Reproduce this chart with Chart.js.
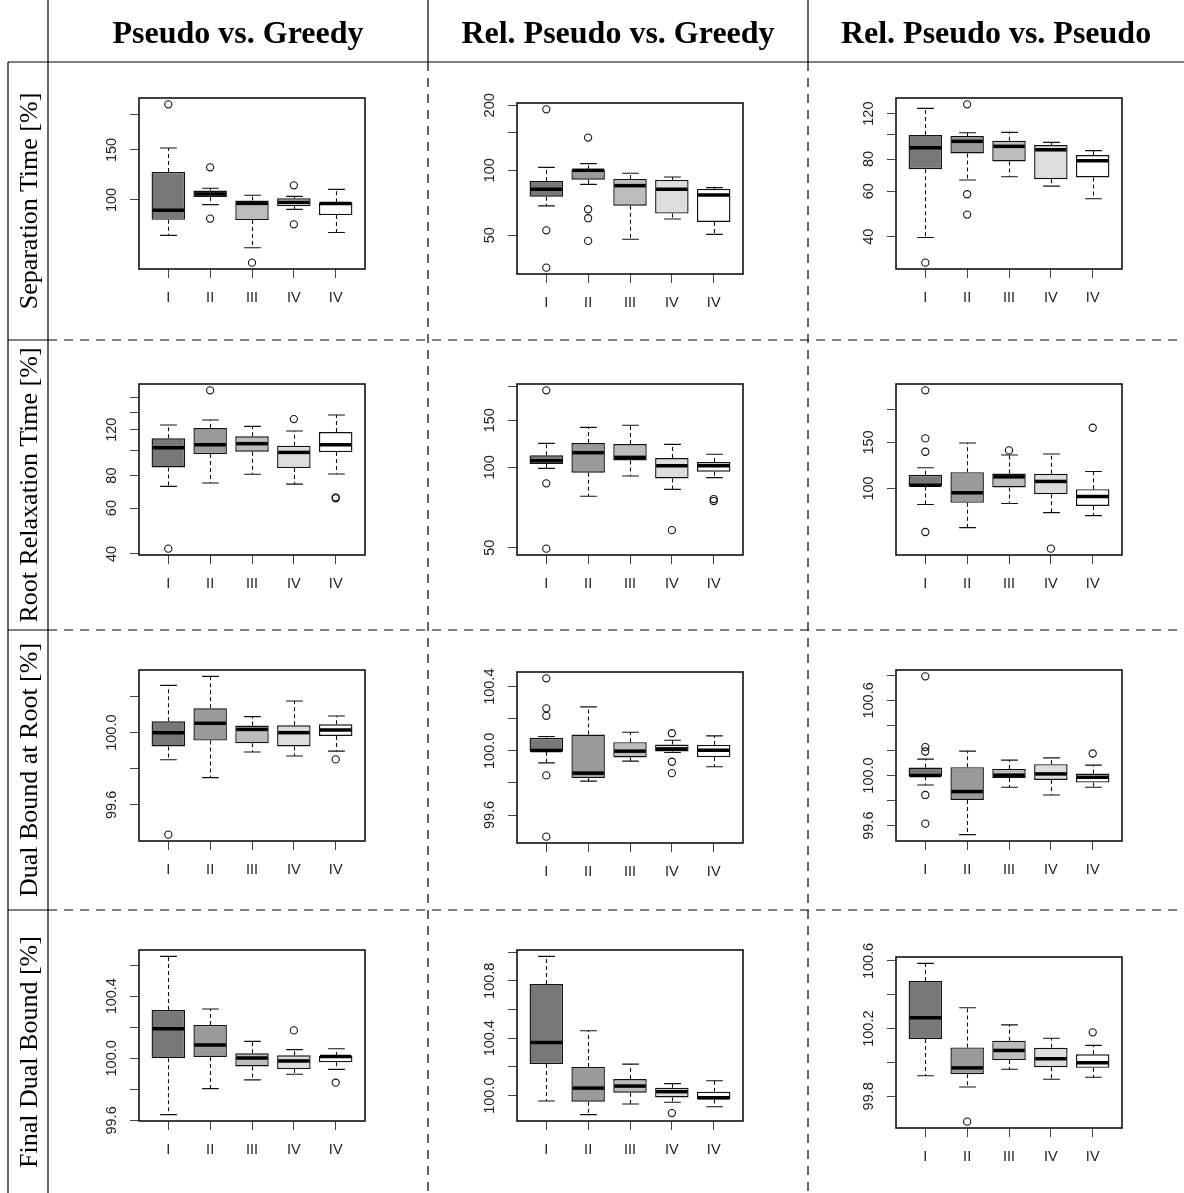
<!DOCTYPE html>
<html>
<head>
<meta charset="utf-8">
<title>Boxplots</title>
<script src="https://cdn.jsdelivr.net/npm/chart.js@4.4.1/dist/chart.umd.min.js"></script>
<style>
  body { margin: 0; background: #fff; }
  #page { position: relative; width: 1184px; height: 1193px; overflow: hidden; background: #fff; }
  #lines { position: absolute; left: 0; top: 0; }
  .panel { position: absolute; }
  .col-title {
    position: absolute; top: 16px; height: 32px; line-height: 32px;
    font-family: "Liberation Serif", "Times New Roman", serif; font-weight: bold; font-size: 32px;
    text-align: center; color: #000; white-space: nowrap;
  }
  .row-title {
    position: absolute; left: 29px; white-space: nowrap;
    font-family: "Liberation Serif", "Times New Roman", serif; font-size: 26px; color: #000;
    transform: translate(-50%, -50%) rotate(-90deg);
  }
</style>
</head>
<body>
<div id="page">
  <canvas id="lines" width="1184" height="1193"></canvas>
</div>
<script>
const boxLabels = ['I', 'II', 'III', 'IV', 'IV'];
const columnTitles = ['Pseudo vs. Greedy', 'Rel. Pseudo vs. Greedy', 'Rel. Pseudo vs. Pseudo'];
const rowTitles = ['Separation Time [%]', 'Root Relaxation Time [%]', 'Dual Bound at Root [%]', 'Final Dual Bound [%]'];

// each box: [lower whisker, Q1, median, Q3, upper whisker]; outliers: [box, value]
const sepGreedy = [[75.1, 85.2, 92.0, 125.5, 152.4], [96.3, 102.5, 105.0, 108.0, 110.0], [67.9, 85.0, 97.3, 99.5, 103.9], [92.7, 95.0, 98.1, 101.4, 103.0], [76.9, 88.5, 97.3, 98.1, 109.0]];
const sepGreedyOut = [[1, 217], [2, 130.3], [2, 86], [3, 60.2], [4, 112.6], [4, 82.1]];
const sepRelGreedy = [[68.4, 75.5, 81.7, 89.2, 103.2], [86.1, 90.5, 100.0, 101.1, 107.4], [47.9, 68.6, 84.9, 91.2, 96.9], [59.5, 63.0, 81.7, 90.2, 93.1], [50.5, 57.6, 76.9, 82.0, 83.1]];
const sepRelGreedyOut = [[1, 191.6], [1, 52.7], [1, 35.4], [2, 141.7], [2, 66], [2, 60], [2, 47.1]];
const sepRelPseudo = [[39.7, 73.1, 88.5, 99.1, 125.8], [66.3, 84.1, 93.7, 98.2, 101.2], [68.3, 78.3, 89.6, 94.2, 101.5], [62.8, 66.8, 86.9, 90.6, 92.8], [56.1, 67.9, 78.8, 82.9, 86.2]];
const sepRelPseudoOut = [[1, 31.7], [2, 130.4], [2, 58.4], [2, 48.7]];

const rootGreedy = [[72.7, 86.0, 102.4, 111.2, 125.1], [74.9, 96.8, 105.1, 121.8, 130.8], [80.9, 98.8, 106.1, 113.2, 123.7], [74.2, 85.5, 98.2, 104.2, 118.7], [81.1, 98.5, 105.1, 117.6, 136.7]];
const rootGreedyOut = [[1, 41.9], [2, 170.1], [4, 131.9], [5, 65.4], [5, 66.0]];
const rootRelGreedy = [[99.1, 102.9, 105.9, 110.9, 123.0], [77.9, 95.5, 113.5, 123.3, 141.2], [92.8, 106.2, 109.0, 122.3, 143.7], [82.7, 90.9, 101.4, 108.4, 121.9], [91.5, 96.3, 101.4, 104.7, 111.9]];
const rootRelGreedyOut = [[1, 194.3], [1, 87.1], [1, 49.6], [4, 58.2], [5, 76.1], [5, 74.8]];
const rootRelPseudo = [[86.9, 101.8, 103.0, 112.8, 120.0], [70.9, 88.2, 96.3, 115.5, 149.2], [87.6, 100.9, 110.8, 114.1, 134.2], [80.9, 95.1, 106.4, 113.8, 135.4], [78.8, 85.8, 93.2, 99.4, 116.2]];
const rootRelPseudoOut = [[1, 237.2], [1, 155.4], [1, 138.2], [1, 68.2], [3, 139.8], [4, 58.9], [5, 170.7]];

const dbrGreedy = [[99.850, 99.924, 100.000, 100.063, 100.262], [99.751, 99.956, 100.052, 100.135, 100.312], [99.893, 99.941, 100.018, 100.039, 100.089], [99.871, 99.924, 100.000, 100.041, 100.175], [99.898, 99.982, 100.015, 100.046, 100.092]];
const dbrGreedyOut = [[1, 99.435], [5, 99.852]];
const dbrRelGreedy = [[99.925, 99.994, 100.002, 100.081, 100.089], [99.811, 99.830, 99.861, 100.102, 100.274], [99.936, 99.959, 99.998, 100.054, 100.116], [99.990, 99.996, 100.012, 100.039, 100.066], [99.901, 99.961, 100.004, 100.037, 100.093]];
const dbrRelGreedyOut = [[1, 100.452], [1, 100.265], [1, 100.218], [1, 99.847], [1, 99.465], [4, 100.110], [4, 99.932], [4, 99.861]];
const dbrRelPseudo = [[99.925, 99.992, 100.000, 100.064, 100.131], [99.528, 99.805, 99.872, 100.067, 100.195], [99.907, 99.981, 100.003, 100.053, 100.123], [99.845, 99.965, 100.013, 100.091, 100.141], [99.907, 99.944, 99.987, 100.016, 100.083]];
const dbrRelPseudoOut = [[1, 100.792], [1, 100.227], [1, 100.192], [1, 99.845], [1, 99.616], [5, 100.176]];

const fdbGreedy = [[99.637, 100.000, 100.191, 100.311, 100.657], [99.805, 100.009, 100.086, 100.215, 100.318], [99.861, 99.948, 100.002, 100.032, 100.109], [99.897, 99.931, 99.983, 100.019, 100.056], [99.929, 99.974, 100.011, 100.015, 100.062]];
const fdbGreedyOut = [[4, 100.180], [5, 99.843]];
const fdbRelGreedy = [[99.963, 100.220, 100.371, 100.777, 100.970], [99.868, 99.958, 100.053, 100.200, 100.452], [99.942, 100.021, 100.067, 100.116, 100.220], [99.954, 99.988, 100.028, 100.056, 100.084], [99.923, 99.974, 99.986, 100.028, 100.104]];
const fdbRelGreedyOut = [[4, 99.879]];
const fdbRelPseudo = [[99.921, 100.139, 100.265, 100.481, 100.586], [99.855, 99.931, 99.968, 100.089, 100.323], [99.960, 100.014, 100.071, 100.129, 100.222], [99.901, 99.972, 100.022, 100.087, 100.143], [99.913, 99.968, 99.998, 100.048, 100.101]];
const fdbRelPseudoOut = [[2, 99.650], [5, 100.178]];

// y axis ticks and their labels ('' = tick without label)
const sepGreedyTicks = [100, 150, 200], sepGreedyLabels = ['100', '150', ''];
const sepRelGreedyTicks = [50, 100, 150, 200], sepRelGreedyLabels = ['50', '100', '', '200'];
const sepRelPseudoTicks = [40, 60, 80, 100, 120], sepRelPseudoLabels = ['40', '60', '80', '', '120'];
const rootGreedyTicks = [40, 60, 80, 100, 120, 140, 160], rootGreedyLabels = ['40', '60', '80', '', '120', '', ''];
const rootRelGreedyTicks = [50, 100, 150, 200], rootRelGreedyLabels = ['50', '100', '150', ''];
const rootRelPseudoTicks = [100, 150, 200], rootRelPseudoLabels = ['100', '150', ''];
const dbrGreedyTicks = [99.6, 99.8, 100.0, 100.2], dbrGreedyLabels = ['99.6', '', '100.0', ''];
const dbrRelGreedyTicks = [99.6, 99.8, 100.0, 100.2, 100.4], dbrRelGreedyLabels = ['99.6', '', '100.0', '', '100.4'];
const dbrRelPseudoTicks = [99.6, 99.8, 100.0, 100.2, 100.4, 100.6, 100.8], dbrRelPseudoLabels = ['99.6', '', '100.0', '', '', '100.6', ''];
const fdbGreedyTicks = [99.6, 99.8, 100.0, 100.2, 100.4, 100.6], fdbGreedyLabels = ['99.6', '', '100.0', '', '100.4', ''];
const fdbRelGreedyTicks = [100.0, 100.2, 100.4, 100.6, 100.8, 101.0], fdbRelGreedyLabels = ['100.0', '', '100.4', '', '100.8', ''];
const fdbRelPseudoTicks = [99.8, 100.0, 100.2, 100.4, 100.6], fdbRelPseudoLabels = ['99.8', '', '100.2', '', '100.6'];

const panels = [
  [
    { stats: sepGreedy, out: sepGreedyOut, ticks: sepGreedyTicks, labels: sepGreedyLabels },
    { stats: sepRelGreedy, out: sepRelGreedyOut, ticks: sepRelGreedyTicks, labels: sepRelGreedyLabels },
    { stats: sepRelPseudo, out: sepRelPseudoOut, ticks: sepRelPseudoTicks, labels: sepRelPseudoLabels }
  ],
  [
    { stats: rootGreedy, out: rootGreedyOut, ticks: rootGreedyTicks, labels: rootGreedyLabels },
    { stats: rootRelGreedy, out: rootRelGreedyOut, ticks: rootRelGreedyTicks, labels: rootRelGreedyLabels },
    { stats: rootRelPseudo, out: rootRelPseudoOut, ticks: rootRelPseudoTicks, labels: rootRelPseudoLabels }
  ],
  [
    { stats: dbrGreedy, out: dbrGreedyOut, ticks: dbrGreedyTicks, labels: dbrGreedyLabels },
    { stats: dbrRelGreedy, out: dbrRelGreedyOut, ticks: dbrRelGreedyTicks, labels: dbrRelGreedyLabels },
    { stats: dbrRelPseudo, out: dbrRelPseudoOut, ticks: dbrRelPseudoTicks, labels: dbrRelPseudoLabels }
  ],
  [
    { stats: fdbGreedy, out: fdbGreedyOut, ticks: fdbGreedyTicks, labels: fdbGreedyLabels },
    { stats: fdbRelGreedy, out: fdbRelGreedyOut, ticks: fdbRelGreedyTicks, labels: fdbRelGreedyLabels },
    { stats: fdbRelPseudo, out: fdbRelPseudoOut, ticks: fdbRelPseudoTicks, labels: fdbRelPseudoLabels }
  ]
];

// page layout
const colEdges = [48, 428, 808, 1184];
const rowEdges = [62, 340, 630, 910, 1193];
const plotLefts = [139, 517, 896];
const plotTops = [[98, 103, 98], [384, 384, 384], [670, 672, 670], [950, 950, 957]];
const PLOT_W = 226, PLOT_H = 171;
const PAD_L = 70, PAD_T = 30, PAD_R = 10, PAD_B = 50;
const boxColors = ['#787878', '#9a9a9a', '#bcbcbc', '#dddddd', '#ffffff'];
const page = document.getElementById('page');

function drawTableLines() {
  const ctx = document.getElementById('lines').getContext('2d');
  ctx.strokeStyle = '#000';
  ctx.lineWidth = 1.2;
  const seg = (x1, y1, x2, y2, dash) => {
    ctx.setLineDash(dash || []);
    ctx.beginPath(); ctx.moveTo(x1, y1); ctx.lineTo(x2, y2); ctx.stroke();
  };
  seg(48, 0, 48, 1193);
  seg(8, 62, 8, 1193);
  seg(8, 62, 1184, 62);
  seg(428, 0, 428, 62);
  seg(808, 0, 808, 62);
  rowEdges.slice(1, 4).forEach(y => {
    seg(8, y, 48, y);
    seg(48, y, 1184, y, [9, 7]);
  });
  [428, 808].forEach(x => seg(x, 62, x, 1193, [9, 7]));
}

function addTitles() {
  columnTitles.forEach((t, c) => {
    const d = document.createElement('div');
    d.className = 'col-title';
    d.style.left = colEdges[c] + 'px';
    d.style.width = (colEdges[c + 1] - colEdges[c]) + 'px';
    d.textContent = t;
    page.appendChild(d);
  });
  rowTitles.forEach((t, r) => {
    const d = document.createElement('div');
    d.className = 'row-title';
    d.style.top = ((rowEdges[r] + rowEdges[r + 1]) / 2) + 'px';
    d.textContent = t;
    page.appendChild(d);
  });
}

// whiskers, staples, medians, frame and rotated y labels
function boxParts(p) {
  return {
    id: 'boxParts',
    beforeDatasetsDraw(chart) {
      const { ctx, scales: { x, y } } = chart;
      const half = x.getPixelForValue(1.2) - x.getPixelForValue(1);
      ctx.save();
      ctx.strokeStyle = '#111';
      ctx.lineWidth = 1.1;
      p.stats.forEach((s, i) => {
        const cx = Math.round(x.getPixelForValue(i + 1)) + 0.5;
        ctx.setLineDash([4, 3]);
        ctx.beginPath();
        ctx.moveTo(cx, y.getPixelForValue(s[3])); ctx.lineTo(cx, y.getPixelForValue(s[4]));
        ctx.moveTo(cx, y.getPixelForValue(s[1])); ctx.lineTo(cx, y.getPixelForValue(s[0]));
        ctx.stroke();
        ctx.setLineDash([]);
        ctx.beginPath();
        [s[0], s[4]].forEach(v => {
          const py = y.getPixelForValue(v);
          ctx.moveTo(cx - half, py); ctx.lineTo(cx + half, py);
        });
        ctx.stroke();
      });
      ctx.restore();
    },
    afterDatasetsDraw(chart) {
      const { ctx, scales: { x, y } } = chart;
      const half = x.getPixelForValue(1.4) - x.getPixelForValue(1);
      ctx.save();
      ctx.strokeStyle = '#000';
      ctx.lineWidth = 3.5;
      p.stats.forEach((s, i) => {
        const cx = x.getPixelForValue(i + 1);
        const py = y.getPixelForValue(s[2]);
        ctx.beginPath(); ctx.moveTo(cx - half + 1, py); ctx.lineTo(cx + half - 1, py); ctx.stroke();
      });
      ctx.restore();
    },
    afterDraw(chart) {
      const { ctx, chartArea: a, scales: { y } } = chart;
      ctx.save();
      ctx.strokeStyle = '#111';
      ctx.lineWidth = 1.6;
      ctx.strokeRect(a.left, a.top, a.right - a.left, a.bottom - a.top);
      ctx.fillStyle = '#222';
      ctx.font = '14.5px "Liberation Sans", Arial, sans-serif';
      ctx.textAlign = 'center';
      ctx.textBaseline = 'middle';
      p.ticks.forEach((v, i) => {
        if (!p.labels[i]) return;
        ctx.save();
        ctx.translate(a.left - 27, y.getPixelForValue(v));
        ctx.rotate(-Math.PI / 2);
        ctx.fillText(p.labels[i], 0, 0);
        ctx.restore();
      });
      ctx.restore();
    }
  };
}

function makePanel(p, r, c) {
  const canvas = document.createElement('canvas');
  canvas.className = 'panel';
  canvas.width = PAD_L + PLOT_W + PAD_R;
  canvas.height = PAD_T + PLOT_H + PAD_B;
  canvas.style.left = (plotLefts[c] - PAD_L) + 'px';
  canvas.style.top = (plotTops[r][c] - PAD_T) + 'px';
  page.appendChild(canvas);

  // y range: data extremes plus 4% on each side, in log space for the time rows
  const useLog = r < 2;
  const vals = [];
  p.stats.forEach(s => vals.push(...s));
  p.out.forEach(o => vals.push(o[1]));
  const f = useLog ? Math.log10 : (v => v);
  const g = useLog ? (v => Math.pow(10, v)) : (v => v);
  const lo = f(Math.min(...vals)), hi = f(Math.max(...vals));
  const ext = (hi - lo) * 0.04;

  new Chart(canvas, {
    type: 'bar',
    data: {
      datasets: [
        {
          type: 'bar',
          data: p.stats.map((s, i) => ({ x: i + 1, y: [s[1], s[3]] })),
          backgroundColor: boxColors,
          borderColor: '#111',
          borderWidth: 1.4,
          borderSkipped: false,
          barPercentage: 0.8,
          categoryPercentage: 1
        },
        {
          type: 'scatter',
          data: p.out.map(o => ({ x: o[0], y: o[1] })),
          pointRadius: 3.6,
          pointBackgroundColor: 'rgba(0,0,0,0)',
          pointBorderColor: '#111',
          pointBorderWidth: 1.1
        }
      ]
    },
    options: {
      responsive: false,
      animation: false,
      devicePixelRatio: 1,
      layout: { padding: { top: PAD_T, right: PAD_R, left: 0, bottom: 0 } },
      plugins: { legend: { display: false }, tooltip: { enabled: false } },
      scales: {
        x: {
          type: 'linear',
          min: 0.3,
          max: 5.7,
          offset: false,
          afterBuildTicks: axis => { axis.ticks = [1, 2, 3, 4, 5].map(v => ({ value: v })); },
          afterFit: axis => { axis.height = PAD_B; },
          grid: { offset: false, drawOnChartArea: false, drawTicks: true, tickLength: 9, color: '#444' },
          border: { display: false },
          ticks: {
            autoSkip: false, maxRotation: 0, padding: 11, color: '#222',
            font: { family: 'Liberation Sans', size: 14.5 },
            callback: v => boxLabels[v - 1]
          }
        },
        y: {
          type: useLog ? 'logarithmic' : 'linear',
          min: g(lo - ext),
          max: g(hi + ext),
          afterBuildTicks: axis => { axis.ticks = p.ticks.map(v => ({ value: v })); },
          afterFit: axis => { axis.width = PAD_L; },
          grid: { drawOnChartArea: false, drawTicks: true, tickLength: 9, color: '#444' },
          border: { display: false },
          ticks: { display: false }
        }
      }
    },
    plugins: [boxParts(p)]
  });
}

drawTableLines();
addTitles();
panels.forEach((row, r) => row.forEach((p, c) => makePanel(p, r, c)));
</script>
</body>
</html>
